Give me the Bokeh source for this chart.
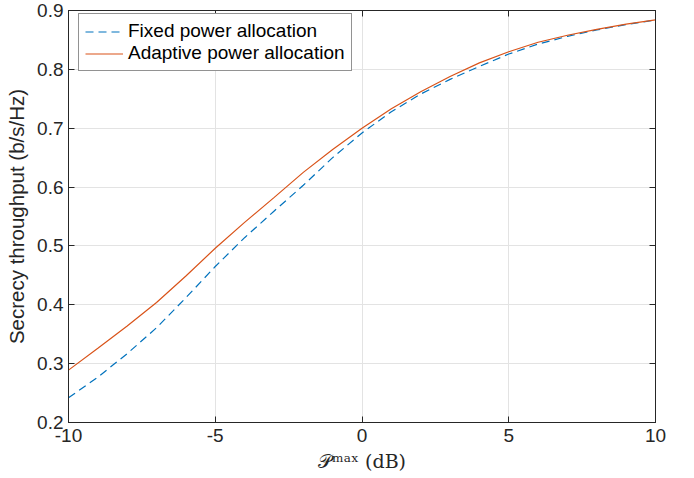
from bokeh.plotting import figure
from bokeh.models import (FixedTicker, LinearAxis, Legend, LegendItem, Range1d,
                          CustomJSTickFormatter)
from bokeh.embed import file_html
from bokeh.resources import INLINE

p_max_db = [-10, -9, -8, -7, -6, -5, -4, -3, -2, -1, 0, 1, 2, 3, 4, 5, 6, 7, 8, 9, 10]
fixed = [0.242, 0.277, 0.317, 0.361, 0.412, 0.465, 0.514, 0.559, 0.603, 0.650, 0.692,
         0.728, 0.758, 0.783, 0.805, 0.826, 0.843, 0.856, 0.867, 0.876, 0.884]
adaptive = [0.289, 0.326, 0.364, 0.404, 0.449, 0.496, 0.540, 0.582, 0.625, 0.664, 0.700,
            0.733, 0.762, 0.788, 0.811, 0.830, 0.846, 0.858, 0.868, 0.877, 0.884]
x_ticks = [-10, -5, 0, 5, 10]
y_ticks = [0.2, 0.3, 0.4, 0.5, 0.6, 0.7, 0.8, 0.9]

FONT = "Liberation Sans"
TXT = "#262626"
BLANK = CustomJSTickFormatter(code="return ''")

p = figure(width=694, height=478, output_backend="svg", toolbar_location=None,
           x_range=Range1d(-10, 10), y_range=Range1d(0.2, 0.9),
           min_border_left=68, min_border_right=39, min_border_top=10, min_border_bottom=56)
p.background_fill_color = "white"
p.border_fill_color = "white"
p.outline_line_color = TXT
p.outline_line_width = 1

for ax in (p.xaxis[0], p.yaxis[0]):
    ax.major_tick_in = 6
    ax.major_tick_out = 0
    ax.minor_tick_line_color = None
    ax.axis_line_color = TXT
    ax.major_tick_line_color = TXT
    ax.major_label_text_font = FONT
    ax.major_label_text_font_size = "19px"
    ax.major_label_text_color = TXT
    ax.axis_label_text_font_style = "normal"

p.xaxis.ticker = FixedTicker(ticks=x_ticks)
p.xaxis.major_label_overrides = {t: str(t) for t in x_ticks}
p.xaxis.major_label_standoff = 6
p.yaxis.ticker = FixedTicker(ticks=y_ticks)
p.yaxis.major_label_standoff = 5

p.xaxis.axis_label = "𝒫ᵐᵃˣ (dB)"
p.xaxis.axis_label_text_font = "DejaVu Serif"
p.xaxis.axis_label_text_font_size = "19px"
p.xaxis.axis_label_text_color = TXT
p.xaxis.axis_label_standoff = 5

p.yaxis.axis_label = "Secrecy throughput (b/s/Hz)"
p.yaxis.axis_label_text_font = FONT
p.yaxis.axis_label_text_font_size = "20.5px"
p.yaxis.axis_label_text_color = TXT
p.yaxis.axis_label_standoff = 6

# box ticks on top and right
top = LinearAxis(ticker=FixedTicker(ticks=x_ticks), formatter=BLANK,
                 major_tick_in=6, major_tick_out=0, minor_tick_line_color=None,
                 axis_line_color=TXT, major_tick_line_color=TXT, major_label_standoff=0)
right = LinearAxis(ticker=FixedTicker(ticks=y_ticks), formatter=BLANK,
                   major_tick_in=6, major_tick_out=0, minor_tick_line_color=None,
                   axis_line_color=TXT, major_tick_line_color=TXT, major_label_standoff=0)
p.add_layout(top, "above")
p.add_layout(right, "right")

p.xgrid.ticker = FixedTicker(ticks=x_ticks)
p.ygrid.ticker = FixedTicker(ticks=y_ticks)
p.xgrid.grid_line_color = "#e3e3e3"
p.ygrid.grid_line_color = "#e3e3e3"

r1 = p.line(p_max_db, fixed, line_color="#0072BD", line_width=1.2, line_dash="8 5")
r2 = p.line(p_max_db, adaptive, line_color="#D95319", line_width=1.2)

legend = Legend(items=[LegendItem(label="Fixed power allocation", renderers=[r1]),
                       LegendItem(label="Adaptive power allocation", renderers=[r2])],
                margin=0,
                label_text_font=FONT, label_text_font_size="19px", label_text_color="black",
                glyph_width=38, glyph_height=21, label_height=21, label_standoff=5,
                padding=6, spacing=0, border_line_color=TXT, border_line_width=1,
                background_fill_color="white", background_fill_alpha=1)
legend.location = (10, 351)
p.add_layout(legend, "center")

open("out.html", "w").write(file_html(p, INLINE))
